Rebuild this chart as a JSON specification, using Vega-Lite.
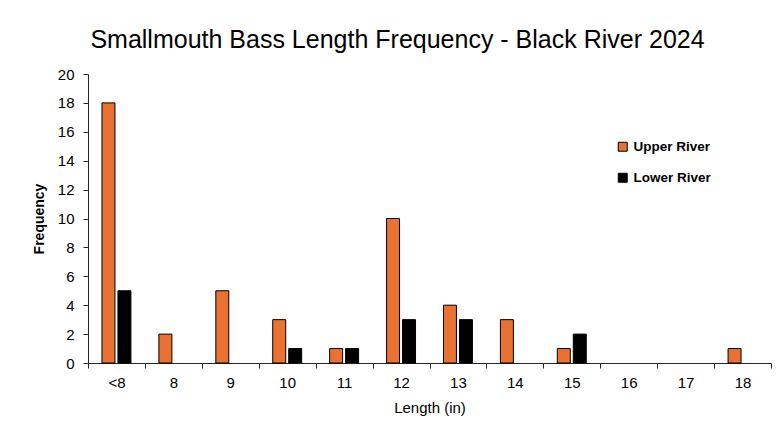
{
  "$schema": "https://vega.github.io/schema/vega-lite/v6.json",
  "autosize": "none",
  "width": 683,
  "height": 289,
  "padding": {"left": 88, "top": 74, "right": 7, "bottom": 71},
  "background": "white",
  "title": {
    "text": "Smallmouth Bass Length Frequency - Black River 2024",
    "font": "Liberation Sans",
    "fontSize": 25,
    "fontWeight": "normal",
    "color": "#000000",
    "anchor": "middle",
    "dx": -32,
    "offset": 14
  },
  "config": {
    "view": {"stroke": null},
    "font": "Liberation Sans"
  },
  "data": {
    "values": [
      {"length": "<8", "river": "Upper River", "count": 18},
      {"length": "<8", "river": "Lower River", "count": 5},
      {"length": "8", "river": "Upper River", "count": 2},
      {"length": "8", "river": "Lower River", "count": 0},
      {"length": "9", "river": "Upper River", "count": 5},
      {"length": "9", "river": "Lower River", "count": 0},
      {"length": "10", "river": "Upper River", "count": 3},
      {"length": "10", "river": "Lower River", "count": 1},
      {"length": "11", "river": "Upper River", "count": 1},
      {"length": "11", "river": "Lower River", "count": 1},
      {"length": "12", "river": "Upper River", "count": 10},
      {"length": "12", "river": "Lower River", "count": 3},
      {"length": "13", "river": "Upper River", "count": 4},
      {"length": "13", "river": "Lower River", "count": 3},
      {"length": "14", "river": "Upper River", "count": 3},
      {"length": "14", "river": "Lower River", "count": 0},
      {"length": "15", "river": "Upper River", "count": 1},
      {"length": "15", "river": "Lower River", "count": 2},
      {"length": "16", "river": "Upper River", "count": 0},
      {"length": "16", "river": "Lower River", "count": 0},
      {"length": "17", "river": "Upper River", "count": 0},
      {"length": "17", "river": "Lower River", "count": 0},
      {"length": "18", "river": "Upper River", "count": 1},
      {"length": "18", "river": "Lower River", "count": 0}
    ]
  },
  "transform": [{"filter": "datum.count > 0"}],
  "mark": {"type": "bar", "stroke": "#000000", "strokeWidth": 1},
  "encoding": {
    "x": {
      "field": "length",
      "type": "nominal",
      "scale": {
        "domain": ["<8", "8", "9", "10", "11", "12", "13", "14", "15", "16", "17", "18"],
        "paddingInner": 0,
        "paddingOuter": 0
      },
      "axis": {
        "title": "Length (in)",
        "titleFont": "Liberation Sans",
        "titleFontSize": 15,
        "titleFontWeight": "normal",
        "titleColor": "#000000",
        "titlePadding": 10,
        "labelAngle": 0,
        "labelFont": "Liberation Sans",
        "labelFontSize": 15,
        "labelColor": "#000000",
        "labelPadding": 7,
        "tickBand": "extent",
        "tickSize": 5,
        "tickColor": "#262626",
        "domainColor": "#262626",
        "grid": false
      }
    },
    "xOffset": {
      "field": "river",
      "type": "nominal",
      "scale": {
        "domain": ["Upper River", "Lower River"],
        "paddingInner": 0.1875,
        "paddingOuter": 0.875
      }
    },
    "y": {
      "field": "count",
      "type": "quantitative",
      "scale": {"domain": [0, 20]},
      "axis": {
        "title": "Frequency",
        "titleFont": "Liberation Sans",
        "titleFontSize": 14,
        "titleFontWeight": "bold",
        "titleColor": "#000000",
        "titlePadding": 11,
        "values": [0, 2, 4, 6, 8, 10, 12, 14, 16, 18, 20],
        "labelFont": "Liberation Sans",
        "labelFontSize": 15,
        "labelColor": "#000000",
        "labelPadding": 9,
        "tickSize": 5,
        "tickColor": "#262626",
        "domainColor": "#262626",
        "grid": false
      }
    },
    "color": {
      "field": "river",
      "type": "nominal",
      "scale": {"domain": ["Upper River", "Lower River"], "range": ["#E97132", "#000000"]},
      "legend": {
        "title": null,
        "orient": "none",
        "legendX": 528,
        "legendY": 66,
        "symbolType": "square",
        "symbolSize": 80,
        "symbolStrokeColor": "#000000",
        "symbolStrokeWidth": 1,
        "symbolOpacity": 1,
        "labelFont": "Liberation Sans",
        "labelFontSize": 13.5,
        "labelFontWeight": "bold",
        "labelColor": "#000000",
        "rowPadding": 16,
        "labelOffset": 4
      }
    }
  }
}
